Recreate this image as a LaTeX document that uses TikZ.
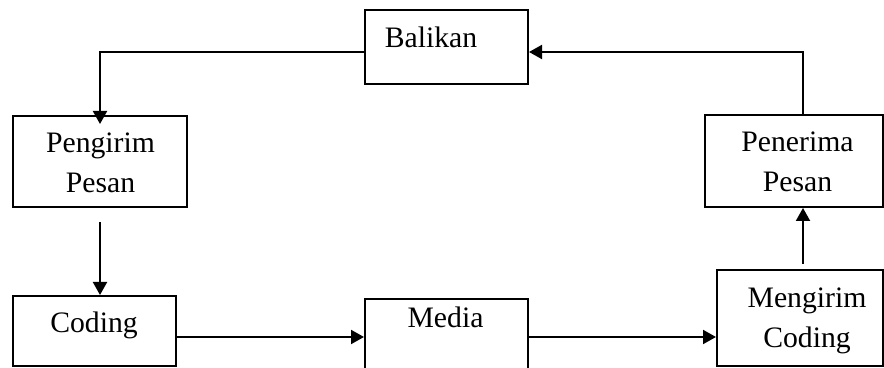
\documentclass[tikz,border=0pt]{standalone}
\usepackage{fontspec}
\setmainfont{Liberation Serif}
\usetikzlibrary{arrows.meta}

\begin{document}
\begin{tikzpicture}[x=0.5pt,y=-0.5pt,
  kotak/.style={draw,line width=1pt,inner sep=0pt},
  teks/.style={font=\fontsize{14.85pt}{20pt}\selectfont,inner sep=0pt,align=center},
  panah/.style={line width=1pt,-{Triangle[length=6.5pt,width=7pt]}}]
\useasboundingbox (0,0) rectangle (884,368);

%kotak
\node[kotak,minimum width=81.5pt,minimum height=37pt] (balikan) at (446.5,47) {};
\node[kotak,minimum width=87pt,minimum height=45.5pt] (pengirim) at (100,161.5) {};
\node[kotak,minimum width=89pt,minimum height=46pt] (penerima) at (794,161) {};
\node[kotak,minimum width=81.5pt,minimum height=35pt] (coding) at (94.5,331) {};
\node[kotak,minimum width=81.5pt,minimum height=37pt] (media) at (446.5,336) {};
\node[kotak,minimum width=83pt,minimum height=48pt] (mengirim) at (800,318) {};
%fin

%teks
\node[teks,anchor=base] (tBalikan) at (431,48) {Balikan};
\node[teks] (tPengirim) at (100.5,163) {Pengirim\\Pesan};
\node[teks] (tPenerima) at (797.5,162) {Penerima\\Pesan};
\node[teks,anchor=base] (tCoding) at (94,333) {Coding};
\node[teks,anchor=base] (tMedia) at (445.5,328) {Media};
\node[teks] (tMengirim) at (807,320.5) {Mengirim\\Coding};
%fin

%panah
\coordinate (c1) at ([yshift=-3pt]coding.east);
\coordinate (c2) at ([xshift=1.5pt,yshift=2.5pt]mengirim.north);
\draw[panah] ([yshift=-2.5pt]balikan.west) -| ([yshift=-4.5pt]pengirim.north);
\draw[panah] ([xshift=4.5pt]penerima.north) |- ([yshift=-2.5pt]balikan.east);
\draw[panah] ([yshift=-7pt]pengirim.south) -- (pengirim.south |- coding.north);
\draw[panah] (c1) -- (c1 -| media.west);
\draw[panah] (c1 -| media.east) -- (c1 -| mengirim.west);
\draw[panah] (c2) -- (c2 |- penerima.south);
%fin
\end{tikzpicture}
\end{document}
